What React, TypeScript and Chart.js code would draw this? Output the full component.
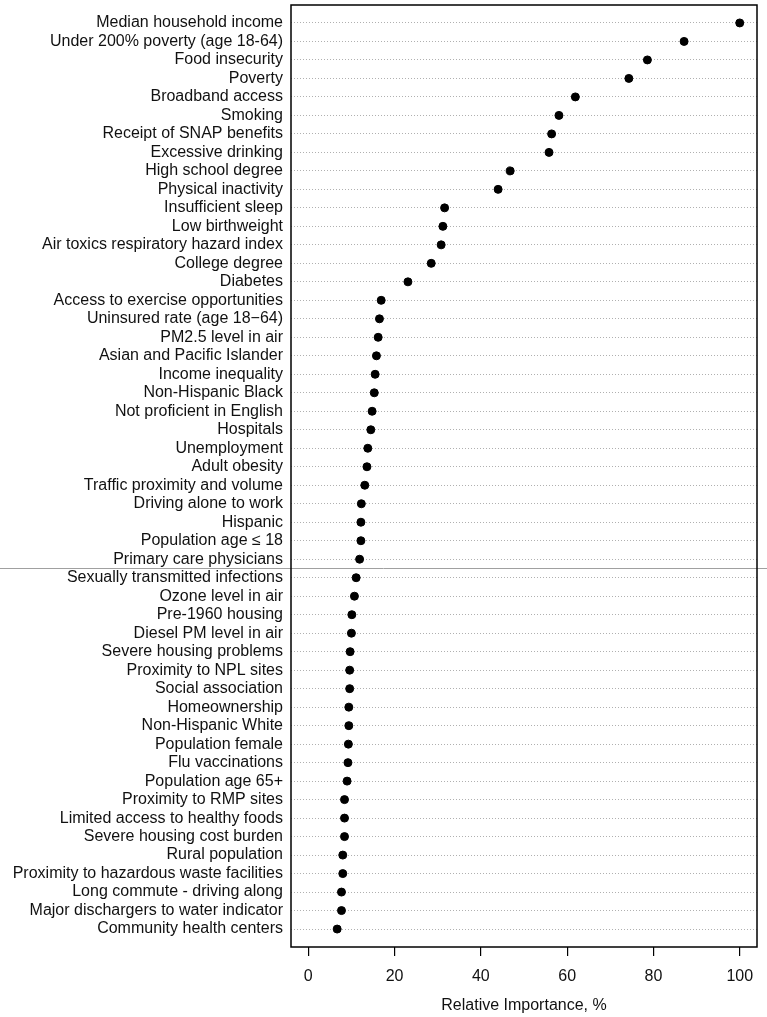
import React, { useEffect, useRef } from "react";
import { Chart, registerables } from "chart.js";

Chart.register(...registerables);

const categories: string[] = [
  "Median household income",
  "Under 200% poverty (age 18-64)",
  "Food insecurity",
  "Poverty",
  "Broadband access",
  "Smoking",
  "Receipt of SNAP benefits",
  "Excessive drinking",
  "High school degree",
  "Physical inactivity",
  "Insufficient sleep",
  "Low birthweight",
  "Air toxics respiratory hazard index",
  "College degree",
  "Diabetes",
  "Access to exercise opportunities",
  "Uninsured rate (age 18\u221264)",
  "PM2.5 level in air",
  "Asian and Pacific Islander",
  "Income inequality",
  "Non-Hispanic Black",
  "Not proficient in English",
  "Hospitals",
  "Unemployment",
  "Adult obesity",
  "Traffic proximity and volume",
  "Driving alone to work",
  "Hispanic",
  "Population age \u2264 18",
  "Primary care physicians",
  "Sexually transmitted infections",
  "Ozone level in air",
  "Pre-1960 housing",
  "Diesel PM level in air",
  "Severe housing problems",
  "Proximity to NPL sites",
  "Social association",
  "Homeownership",
  "Non-Hispanic White",
  "Population female",
  "Flu vaccinations",
  "Population age 65+",
  "Proximity to RMP sites",
  "Limited access to healthy foods",
  "Severe housing cost burden",
  "Rural population",
  "Proximity to hazardous waste facilities",
  "Long commute - driving along",
  "Major dischargers to water indicator",
  "Community health centers",
];

const values: number[] = [
  100, 87.1, 78.6, 74.3, 61.9, 58.1, 56.4, 55.8, 46.8, 44.0,
  31.6, 31.2, 30.8, 28.5, 23.1, 16.9, 16.5, 16.2, 15.8, 15.5,
  15.3, 14.8, 14.5, 13.8, 13.6, 13.1, 12.3, 12.2, 12.2, 11.9,
  11.1, 10.7, 10.1, 10.0, 9.7, 9.6, 9.6, 9.4, 9.4, 9.3,
  9.2, 9.0, 8.4, 8.4, 8.4, 8.0, 8.0, 7.7, 7.7, 6.7,
];

const xTicks: number[] = [0, 20, 40, 60, 80, 100];
const xTitle = "Relative Importance, %";
const separatorAfter = 30; // line between group 1 and group 2

const FONT = "'Liberation Sans', Arial, sans-serif";

const framePlugin = {
  id: "frame",
  afterDraw(chart: any) {
    const { ctx, chartArea, scales } = chart;
    ctx.save();
    const yPix = Math.round(scales.y.getPixelForValue(separatorAfter + 0.5)) + 0.5;
    ctx.strokeStyle = "#a0a0a0";
    ctx.lineWidth = 1;
    ctx.beginPath();
    ctx.moveTo(0, yPix);
    ctx.lineTo(chart.width, yPix);
    ctx.stroke();
    ctx.strokeStyle = "#000";
    ctx.lineWidth = 1.5;
    ctx.strokeRect(
      chartArea.left,
      chartArea.top,
      chartArea.right - chartArea.left,
      chartArea.bottom - chartArea.top
    );
    ctx.restore();
  },
};

export default function App() {
  const ref = useRef<HTMLCanvasElement | null>(null);

  useEffect(() => {
    if (!ref.current) return;
    const chart = new Chart(ref.current, {
      type: "scatter",
      data: {
        datasets: [
          {
            data: values.map((v, i) => ({ x: v, y: i + 1 })),
            backgroundColor: "#000",
            borderColor: "#000",
            pointRadius: 4,
            pointHoverRadius: 4,
          },
        ],
      },
      options: {
        responsive: false,
        animation: false,
        layout: { padding: { left: 0, right: 10, top: -3, bottom: 0 } },
        plugins: {
          legend: { display: false },
          tooltip: { enabled: false },
        },
        scales: {
          x: {
            type: "linear",
            min: -4,
            max: 104,
            afterBuildTicks: (axis: any) => {
              axis.ticks = xTicks.map((v) => ({ value: v }));
            },
            afterFit: (axis: any) => {
              axis.height = 70;
              axis.paddingLeft = 0;
              axis.paddingRight = 0;
            },
            grid: {
              drawOnChartArea: false,
              drawTicks: true,
              tickLength: 9,
              color: "#000",
              lineWidth: 1.2,
            },
            border: { display: false },
            ticks: {
              color: "#111",
              font: { family: FONT, size: 16 },
              padding: 11,
              maxRotation: 0,
            },
            title: {
              display: true,
              text: xTitle,
              color: "#111",
              font: { family: FONT, size: 16 },
              padding: { top: 4, bottom: 2 },
            },
          },
          y: {
            type: "linear",
            reverse: true,
            min: 0.03,
            max: 50.97,
            afterBuildTicks: (axis: any) => {
              axis.ticks = categories.map((_, i) => ({ value: i + 1 }));
            },
            afterFit: (axis: any) => {
              axis.width = 291;
              axis.paddingTop = 0;
              axis.paddingBottom = 0;
            },
            grid: {
              drawTicks: false,
              tickLength: 0,
              color: "#b0b0b0",
              lineWidth: 1,
            },
            border: { display: false, dash: [1, 2] },
            ticks: {
              autoSkip: false,
              color: "#111",
              font: { family: FONT, size: 16 },
              padding: 8,
              callback: (v: any) => {
                const idx = Math.round(Number(v)) - 1;
                return categories[idx] ?? "";
              },
            },
          },
        },
      },
      plugins: [framePlugin],
    });
    return () => chart.destroy();
  }, []);

  return (
    <div style={{ position: "absolute", left: 0, top: 0, width: 767, height: 1017, background: "#fff" }}>
      <canvas ref={ref} width={767} height={1017} style={{ display: "block" }} />
    </div>
  );
}
